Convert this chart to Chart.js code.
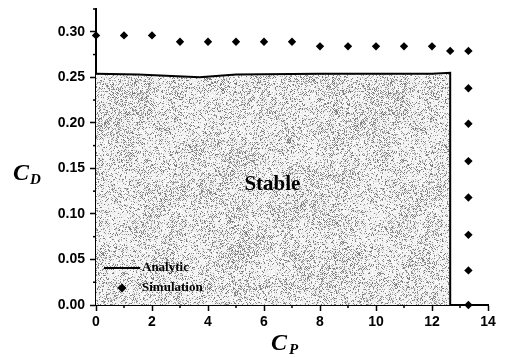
<!DOCTYPE html>
<html lang="en">
<head>
  <meta charset="UTF-8">
  <title>Stability map</title>
  <script src="https://cdn.jsdelivr.net/npm/chart.js"></script>
  <style>
    html, body { margin: 0; padding: 0; background: #fff; }
    #myChart { display: block; }
  </style>
</head>
<body>
  <canvas id="myChart" width="506" height="358"></canvas>
  <script>
    // analytic stability boundary (C_P, C_D)
    const analyticCp = [0, 1.5, 3.7, 5, 8, 12, 12.65, 12.65];
    const analyticCd = [0.254, 0.253, 0.250, 0.253, 0.254, 0.254, 0.255, 0];

    // simulation points
    const simCp = [0, 1, 2, 3, 4, 5, 6, 7, 8, 9, 10, 11, 12, 12.65, 13.3,
                   13.3, 13.3, 13.3, 13.3, 13.3, 13.3, 13.3];
    const simCd = [0.296, 0.296, 0.296, 0.289, 0.289, 0.289, 0.289, 0.289,
                   0.284, 0.284, 0.284, 0.284, 0.284, 0.279, 0.279,
                   0.238, 0.199, 0.158, 0.118, 0.077, 0.038, 0.0];

    const xTicks = [0, 2, 4, 6, 8, 10, 12, 14];
    const yTicks = [0.00, 0.05, 0.10, 0.15, 0.20, 0.25, 0.30];

    // grainy grey stipple for the stable region
    function stipple() {
      const N = 256, G = 16, cells = N / G;
      const c = document.createElement('canvas');
      c.width = N; c.height = N;
      const g = c.getContext('2d');
      const img = g.createImageData(N, N);
      let s = 20240;
      const rnd = () => { s = (s * 1103515245 + 12345) & 0x7fffffff; return s / 0x7fffffff; };
      const dens = [];
      for (let i = 0; i < cells * cells; i++) dens.push(0.12 + rnd() * 0.26);
      const d = (i, j) => dens[((j + cells) % cells) * cells + ((i + cells) % cells)];
      for (let y = 0; y < N; y++) {
        for (let x = 0; x < N; x++) {
          const gx = x / G, gy = y / G;
          const i = Math.floor(gx), j = Math.floor(gy), fx = gx - i, fy = gy - j;
          const p = d(i, j) * (1 - fx) * (1 - fy) + d(i + 1, j) * fx * (1 - fy) +
                    d(i, j + 1) * (1 - fx) * fy + d(i + 1, j + 1) * fx * fy;
          const bias = ((x + y) % 2 === 0) ? 1.4 : 0.6;
          const v = rnd() < p * bias ? 110 + rnd() * 70 : 232 + rnd() * 23;
          const k = (y * N + x) * 4;
          img.data[k] = img.data[k + 1] = img.data[k + 2] = v;
          img.data[k + 3] = 255;
        }
      }
      g.putImageData(img, 0, 0);
      return g.createPattern(c, 'repeat');
    }

    const ctx = document.getElementById('myChart').getContext('2d');

    const extras = {
      id: 'extras',
      afterDraw(chart) {
        const c = chart.ctx;
        const xs = chart.scales.x, ys = chart.scales.y;
        c.save();
        c.strokeStyle = '#000';
        c.lineWidth = 1.5;
        // minor ticks
        for (let v = 1; v < 14; v += 2) {
          const px = xs.getPixelForValue(v);
          c.beginPath(); c.moveTo(px, ys.bottom); c.lineTo(px, ys.bottom + 3); c.stroke();
        }
        for (let v = 0.025; v < 0.33; v += 0.05) {
          const py = ys.getPixelForValue(v);
          c.beginPath(); c.moveTo(xs.left, py); c.lineTo(xs.left - 3, py); c.stroke();
        }
        c.fillStyle = '#000';
        // region label
        c.font = 'bold 21px "Liberation Serif"';
        c.textAlign = 'center';
        c.textBaseline = 'middle';
        c.fillText('Stable', xs.getPixelForValue(6.3), ys.getPixelForValue(0.132));
        // axis titles
        c.textAlign = 'left';
        c.textBaseline = 'alphabetic';
        c.font = 'bold italic 24px "Liberation Serif"';
        c.fillText('C', 13, 180);
        c.font = 'bold italic 15px "Liberation Serif"';
        c.fillText('D', 30, 184);
        c.font = 'bold italic 24px "Liberation Serif"';
        c.fillText('C', 271, 350);
        c.font = 'bold italic 15px "Liberation Serif"';
        c.fillText('P', 289, 354);
        // legend
        c.lineWidth = 2;
        c.beginPath(); c.moveTo(104, 268); c.lineTo(140, 268); c.stroke();
        const dx = 122, dy = 288, r = 4.5;
        c.beginPath();
        c.moveTo(dx, dy - r); c.lineTo(dx + r, dy); c.lineTo(dx, dy + r); c.lineTo(dx - r, dy);
        c.closePath(); c.fill();
        c.font = 'bold 13px "Liberation Serif"';
        c.textBaseline = 'middle';
        c.fillText('Analytic', 142, 268);
        c.fillText('Simulation', 142, 288);
        c.restore();
      }
    };

    new Chart(ctx, {
      type: 'scatter',
      data: {
        datasets: [{
          label: 'Analytic',
          data: analyticCp.map((x, i) => ({ x: x, y: analyticCd[i] })),
          showLine: true,
          borderColor: '#000',
          borderWidth: 2,
          pointRadius: 0,
          fill: 'origin',
          backgroundColor: stipple(),
          order: 2
        }, {
          label: 'Simulation',
          data: simCp.map((x, i) => ({ x: x, y: simCd[i] })),
          pointStyle: 'rectRot',
          pointRadius: 4.2,
          backgroundColor: '#000',
          borderColor: '#000',
          borderWidth: 0,
          clip: false,
          order: 1
        }]
      },
      options: {
        responsive: false,
        animation: false,
        layout: { padding: { left: 0, top: 9, right: 18, bottom: 0 } },
        plugins: { legend: { display: false }, tooltip: { enabled: false } },
        scales: {
          x: {
            type: 'linear',
            min: 0, max: 14,
            afterBuildTicks: s => { s.ticks = xTicks.map(v => ({ value: v })); },
            afterFit: s => { s.height = 53; s.paddingLeft = 0; s.paddingRight = 0; },
            border: { color: '#000', width: 2 },
            grid: { drawOnChartArea: false, color: '#000', tickLength: 6, tickWidth: 1.5 },
            ticks: { color: '#000', padding: 3, font: { family: 'Liberation Sans', size: 14, weight: 'bold' } }
          },
          y: {
            type: 'linear',
            min: 0, max: 0.325,
            afterBuildTicks: s => { s.ticks = yTicks.map(v => ({ value: v })); },
            afterFit: s => { s.width = 96; s.paddingTop = 0; s.paddingBottom = 0; },
            border: { color: '#000', width: 2 },
            grid: { drawOnChartArea: false, color: '#000', tickLength: 6, tickWidth: 1.5 },
            ticks: {
              color: '#000', padding: 5,
              font: { family: 'Liberation Sans', size: 14, weight: 'bold' },
              callback: v => v.toFixed(2)
            }
          }
        }
      },
      plugins: [extras]
    });
  </script>
</body>
</html>
